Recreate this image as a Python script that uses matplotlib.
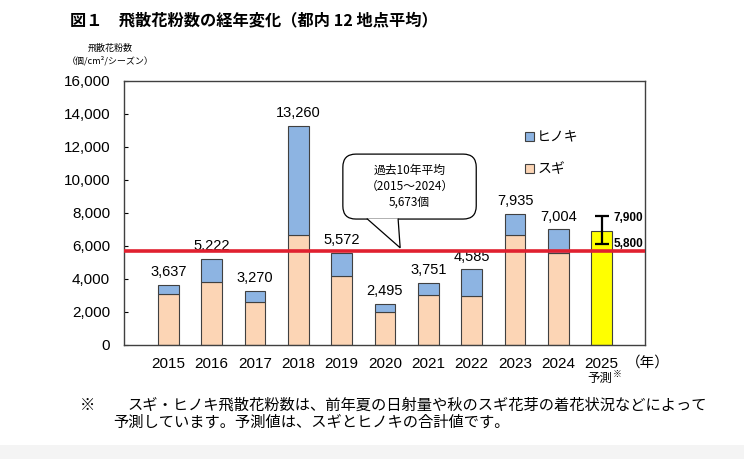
import numpy as np
import matplotlib.pyplot as plt
from matplotlib.patches import FancyBboxPatch, Polygon, Patch, Rectangle

plt.rcParams['font.family'] = ['Liberation Sans', 'Noto Sans CJK JP', 'DejaVu Sans']

# データ
years = ['2015', '2016', '2017', '2018', '2019', '2020', '2021', '2022', '2023', '2024']
totals = [3637, 5222, 3270, 13260, 5572, 2495, 3751, 4585, 7935, 7004]
sugi = [3090, 3820, 2590, 6690, 4180, 2000, 3050, 2990, 6670, 5560]
hinoki = [t - s for t, s in zip(totals, sugi)]
avg_value = 5673
forecast_year = '2025'
forecast_bar = 6900
forecast_low = 6100
forecast_high = 7800
forecast_labels = ['7,900', '5,800']

c_sugi = '#FCD5B5'
c_hinoki = '#8DB4E2'
c_edge = '#404040'

fig = plt.figure(figsize=(7.44, 4.59), dpi=100)
ax = fig.add_axes([0.1667, 0.2484, 0.7003, 0.5752])

x = np.arange(len(years))
w = 0.48
ax.bar(x, sugi, w, color=c_sugi, edgecolor=c_edge, linewidth=0.8, zorder=2)
ax.bar(x, hinoki, w, bottom=sugi, color=c_hinoki, edgecolor=c_edge, linewidth=0.8, zorder=2)
for xi, t in zip(x, totals):
    ax.text(xi, t + 350, f'{t:,}', ha='center', va='bottom', fontsize=10.5)

# 予測
xf = len(years)
ax.bar(xf, forecast_bar, w, color='#FFFF00', edgecolor=c_edge, linewidth=0.8, zorder=2)
ax.errorbar(xf, (forecast_low + forecast_high) / 2, yerr=(forecast_high - forecast_low) / 2,
            color='black', capsize=5, elinewidth=1.6, capthick=1.6, zorder=4)
ax.text(xf + 0.27, forecast_high - 80, forecast_labels[0], fontsize=8.5, fontweight='bold',
        va='center', ha='left')
ax.text(xf + 0.27, forecast_low + 20, forecast_labels[1], fontsize=8.5, fontweight='bold',
        va='center', ha='left')

# 平均線
ax.axhline(avg_value, color='#E0202F', linewidth=2.6, zorder=3)

ax.set_xlim(-1.02, 11.0)
ax.set_ylim(0, 16000)
ax.set_yticks(np.arange(0, 16001, 2000))
ax.set_yticklabels([f'{v:,}' for v in range(0, 16001, 2000)], fontsize=11)
ax.tick_params(axis='y', direction='in', length=3, pad=10)
ax.set_xticks(list(x) + [xf])
ax.set_xticklabels(years + [forecast_year], fontsize=11)
ax.tick_params(axis='x', length=0, pad=9)
for s in ax.spines.values():
    s.set_color('#404040')
    s.set_linewidth(1.0)

ax.text(1.005, -0.04, '（年）', transform=ax.transAxes, fontsize=10.5, va='top', ha='center',
        family=['Noto Sans CJK JP'])
ax.text(xf + 0.25, -2000, '予測', fontsize=9, va='center', ha='right', family=['Noto Sans CJK JP'])
ax.text(xf + 0.25, -1800, '※', fontsize=6.5, va='center', ha='left', family=['Noto Sans CJK JP'])

# 吹き出し
aspect = (521 / 264)
box = FancyBboxPatch((0.420, 0.477), 0.256, 0.246, transform=ax.transAxes,
                     boxstyle='round,pad=0,rounding_size=0.025', mutation_aspect=aspect,
                     facecolor='white', edgecolor='black', linewidth=0.9, zorder=5)
ax.add_patch(box)
tail = Polygon([(0.466, 0.479), (0.530, 0.368), (0.526, 0.479)], closed=False,
               transform=ax.transAxes, facecolor='white', edgecolor='black',
               linewidth=0.9, zorder=6)
ax.add_patch(tail)
ax.text(0.548, 0.60, '過去10年平均\n（2015～2024）\n5,673個', transform=ax.transAxes,
        ha='center', va='center', fontsize=8.5, linespacing=1.35, zorder=7,
        family=['Noto Sans CJK JP'])

# 凡例
handles = [Patch(facecolor=c_hinoki, edgecolor=c_edge, linewidth=0.8, label='ヒノキ'),
           Patch(facecolor=c_sugi, edgecolor=c_edge, linewidth=0.8, label='スギ')]
leg = ax.legend(handles=handles, loc='upper left', bbox_to_anchor=(0.745, 0.86), frameon=False,
                handlelength=0.7, handleheight=0.7, handletextpad=0.2, labelspacing=1.3,
                prop={'family': 'Noto Sans CJK JP', 'size': 10})

# タイトル等
fig.text(0.094, 0.955, '図１　飛散花粉数の経年変化（都内 12 地点平均）', fontsize=11.7,
         fontweight='bold', va='center', ha='left', family=['Noto Sans CJK JP'])
fig.text(0.148, 0.895, '飛散花粉数', fontsize=6.5, ha='center', va='center',
         family=['Noto Sans CJK JP'])
fig.text(0.148, 0.868, '（個/cm²/シーズン）', fontsize=6.5, ha='center', va='center',
         family=['Noto Sans CJK JP', 'DejaVu Sans'])

fig.text(0.118, 0.1176, '※', fontsize=11, ha='center', va='center', family=['Noto Sans CJK JP'])
fig.text(0.172, 0.1176, 'スギ・ヒノキ飛散花粉数は、前年夏の日射量や秋のスギ花芽の着花状況などによって',
         fontsize=11, ha='left', va='center', family=['Noto Sans CJK JP'])
fig.text(0.152, 0.0806, '予測しています。予測値は、スギとヒノキの合計値です。',
         fontsize=11, ha='left', va='center', family=['Noto Sans CJK JP'])

fig.add_artist(Rectangle((0, 0), 1, 0.03, transform=fig.transFigure, facecolor='#F4F4F4',
                         edgecolor='none', zorder=0))

fig.savefig('out.png', dpi=100)
